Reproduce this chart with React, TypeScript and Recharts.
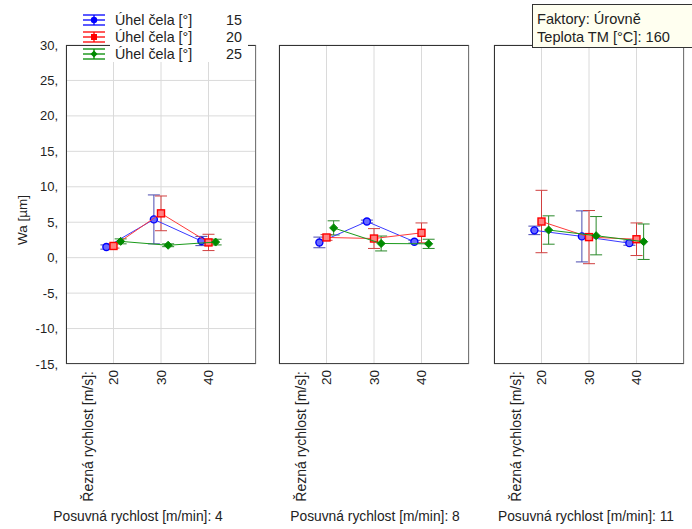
import React from 'react';
import { ComposedChart, Scatter, XAxis, YAxis, CartesianGrid, ErrorBar } from 'recharts';

// ---- data ----
const SPEEDS = [20, 30, 40]; // Řezná rychlost [m/s]
const FEEDS = [4, 8, 11]; // Posuvná rychlost [m/min]
const ANGLES = [15, 20, 25]; // Úhel čela [°]
const Y_TICKS = [-15, -10, -5, 0, 5, 10, 15, 20, 25, 30];
const X_TICKS = [20, 30, 40];

// mean Wa [µm]: rows = feed panel, cols = cutting speed
const wa15 = [[1.5, 5.4, 2.35], [2.15, 5.1, 2.25], [3.85, 3.0, 2.05]];
const err15 = [[0.3, 3.45, 0.65], [0.75, 0.2, 0.2], [0.6, 3.6, 0.3]];
const wa20 = [[1.65, 6.25, 2.15], [2.85, 2.7, 3.5], [5.1, 2.9, 2.6]];
const err20 = [[0.3, 2.45, 1.15], [0.4, 1.4, 1.4], [4.4, 3.75, 2.3]];
const wa25 = [[2.3, 1.75, 2.2], [4.2, 2.0, 1.95], [3.9, 3.1, 2.25]];
const err25 = [[0.35, 0.2, 0.4], [1.0, 1.05, 0.65], [2.0, 2.7, 2.5]];

// ---- styles / layout ----
const FONT = 'Liberation Sans, Arial, sans-serif';
const PANEL_LEFT = [66, 279, 494];
const PANEL_W = 190;
const PLOT_TOP = 45;
const PLOT_BOTTOM = 364;
const W = 692;
const H = 529;
const OFFSETS = [-1.5, 0, 1.5];

const SERIES = [
  { means: wa15, errs: err15, color: '#0000ff', line: '#3a3aff', err: '#4b4bb0', shape: 'circle' },
  { means: wa20, errs: err20, color: '#ff0000', line: '#ff3a3a', err: '#d04040', shape: 'square' },
  { means: wa25, errs: err25, color: '#008a00', line: '#1a9a1a', err: '#2a8a2a', shape: 'diamond' },
];

const makeShape = (kind: string, color: string) => (props: any) => {
  const { cx, cy } = props;
  if (cx == null || cy == null) return <g />;
  if (kind === 'circle')
    return <circle cx={cx} cy={cy} r={3.5} fill="#6a6aff" stroke={color} strokeWidth={1.4} />;
  if (kind === 'square')
    return <rect x={cx - 3.5} y={cy - 3.5} width={7} height={7} fill="#ff8080" stroke={color} strokeWidth={1.4} />;
  return <polygon points={`${cx},${cy - 4} ${cx + 4},${cy} ${cx},${cy + 4} ${cx - 4},${cy}`} fill={color} stroke={color} strokeWidth={1} />;
};

const XTick = (props: any) => {
  const { x, y, payload } = props;
  return (
    <text x={x} y={y} transform={`rotate(-90 ${x} ${y})`} textAnchor="end" dominantBaseline="central"
      fontSize={13.5} fill="#222" fontFamily={FONT}>{payload.value}</text>
  );
};

const YTick = (props: any) => {
  const { x, y, payload } = props;
  return (
    <text x={x} y={y} textAnchor="end" dominantBaseline="central" fontSize={13} fill="#222" fontFamily={FONT}>
      {`${payload.value},`}
    </text>
  );
};

const Panel = ({ p }: { p: number }) => {
  const left = PANEL_LEFT[p];
  const yAxisW = 60;
  const xAxisH = 30;
  return (
    <div style={{ position: 'absolute', left: 0, top: 0 }}>
      <ComposedChart width={W} height={H}
        margin={{ left: left - yAxisW, right: W - (left + PANEL_W), top: PLOT_TOP, bottom: H - PLOT_BOTTOM - xAxisH }}>
        <CartesianGrid stroke="#dadada" strokeWidth={1} />
        <XAxis type="number" dataKey="x" domain={[10, 50]} ticks={X_TICKS} allowDataOverflow
          axisLine={false} tickLine={false} tickSize={0} tickMargin={6} height={xAxisH} tick={<XTick />} interval={0} />
        <YAxis type="number" dataKey="y" domain={[-15, 30]} ticks={Y_TICKS} allowDataOverflow width={yAxisW}
          axisLine={false} tickLine={false} tickSize={0} tickMargin={8} interval={0}
          tick={p === 0 ? <YTick /> : false} />
        {SERIES.map((s, si) => {
          const data = SPEEDS.map((sp, i) => ({ x: sp + OFFSETS[si], y: s.means[p][i], e: s.errs[p][i] }));
          return (
            <Scatter key={si} data={data} isAnimationActive={false}
              line={{ stroke: s.line, strokeWidth: 1 }} shape={makeShape(s.shape, s.color)}>
              <ErrorBar dataKey="e" direction="y" width={6} stroke={s.err} strokeWidth={1} isAnimationActive={false} />
            </Scatter>
          );
        })}
      </ComposedChart>
    </div>
  );
};

export default function App() {
  return (
    <div style={{ position: 'absolute', left: 0, top: 0, width: W, height: H, background: '#fff', fontFamily: FONT }}>
      {[0, 1, 2].map((p) => <Panel key={p} p={p} />)}
      {/* frames */}
      {PANEL_LEFT.map((l, i) => (
        <div key={i} style={{
          position: 'absolute', left: l, top: PLOT_TOP, width: PANEL_W, height: PLOT_BOTTOM - PLOT_TOP,
          boxSizing: 'border-box', borderTop: '1px solid #333', borderLeft: '1px solid #333',
          borderBottom: '1px solid #444', borderRight: '1px solid #777',
        }} />
      ))}
      <svg width={W} height={H} style={{ position: 'absolute', left: 0, top: 0 }}>
        {/* y axis title */}
        <text x={22} y={220} transform="rotate(-90 22 220)" textAnchor="middle" dominantBaseline="central"
          fontSize={13.5} fill="#222" fontFamily={FONT}>Wa [µm]</text>
        {PANEL_LEFT.map((l, i) => (
          <text key={'r' + i} x={l + 22} y={371} transform={`rotate(-90 ${l + 22} 371)`} textAnchor="end"
            dominantBaseline="central" fontSize={14} fill="#222" fontFamily={FONT}>Řezná rychlost [m/s]:</text>
        ))}
        {[138, 375, 586].map((cx, i) => (
          <text key={'f' + i} x={cx} y={521} textAnchor="middle" fontSize={13.8} fill="#222" fontFamily={FONT}>
            {`Posuvná rychlost [m/min]: ${FEEDS[i]}`}
          </text>
        ))}
        {/* legend */}
        <rect x={110} y={11} width={138} height={51} fill="#fff" />
        {SERIES.map((s, si) => {
          const cy = 20 + si * 17;
          const mx = 94;
          return (
            <g key={'l' + si}>
              <line x1={83} x2={105} y1={cy - 5} y2={cy - 5} stroke={s.color} strokeWidth={1.3} />
              <line x1={83} x2={105} y1={cy} y2={cy} stroke={s.color} strokeWidth={1.3} />
              <line x1={83} x2={105} y1={cy + 5} y2={cy + 5} stroke={s.color} strokeWidth={1.3} />
              <line x1={mx} x2={mx} y1={cy - 5} y2={cy + 5} stroke={s.color} strokeWidth={1.3} />
              {si === 0 && <circle cx={mx} cy={cy} r={3.2} fill={s.color} />}
              {si === 1 && <rect x={mx - 3} y={cy - 3} width={6} height={6} fill={s.color} />}
              {si === 2 && <polygon points={`${mx},${cy - 3.5} ${mx + 3.5},${cy} ${mx},${cy + 3.5} ${mx - 3.5},${cy}`} fill={s.color} />}
              <text x={115} y={cy} dominantBaseline="central" fontSize={14.3} fill="#222" fontFamily={FONT}>Úhel čela [°]</text>
              <text x={242} y={cy} textAnchor="end" dominantBaseline="central" fontSize={14.3} fill="#222" fontFamily={FONT}>{ANGLES[si]}</text>
            </g>
          );
        })}
        {/* factor box */}
        <rect x={532.5} y={4.5} width={165} height={43} fill="#fffff0" stroke="#333" strokeWidth={1} />
        <text x={537} y={19} dominantBaseline="central" fontSize={14.6} fill="#222" fontFamily={FONT}>Faktory: Úrovně</text>
        <text x={537} y={37} dominantBaseline="central" fontSize={14.6} fill="#222" fontFamily={FONT}>Teplota TM [°C]: 160</text>
      </svg>
    </div>
  );
}
